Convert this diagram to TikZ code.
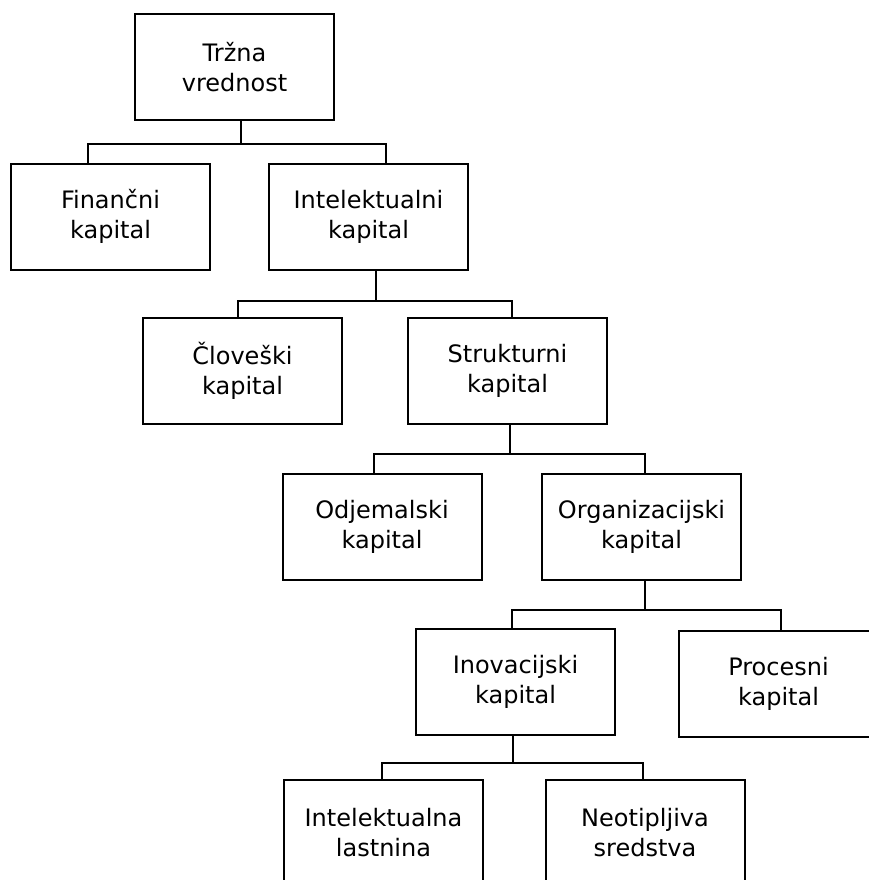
\documentclass[tikz,border=0pt]{standalone}
\usepackage{fontspec}
\setmainfont{DejaVu Sans}
\usetikzlibrary{shapes}
\tikzstyle{block} = [rectangle, draw, line width=2pt, fill=white,
    minimum width=199pt, minimum height=106pt, align=center,
    font=\fontsize{24pt}{30pt}\selectfont]
\tikzstyle{line} = [draw, line width=2pt]

\begin{document}
\begin{tikzpicture}[x=1pt, y=1pt]
        \useasboundingbox (0,0) rectangle (869,-880);
        \clip (0,0) rectangle (869,-880);

        % Place nodes
        \node [block] (trzna) at (234.5,-67) {Tržna\\vrednost};
        \node [block] (financni) at (110.5,-216.5) {Finančni\\kapital};
        \node [block] (intelekt) at (368.5,-216.5) {Intelektualni\\kapital};
        \node [block] (cloveski) at (242.5,-371) {Človeški\\kapital};
        \node [block] (strukt) at (507.5,-371) {Strukturni\\kapital};
        \node [block] (odjem) at (382,-527) {Odjemalski\\kapital};
        \node [block] (organiz) at (641.5,-527) {Organizacijski\\kapital};
        \node [block] (inovac) at (515.5,-681.5) {Inovacijski\\kapital};
        \node [block] (proces) at (778.5,-683.5) {Procesni\\kapital};
        \node [block] (lastnina) at (383.5,-833) {Intelektualna\\lastnina};
        \node [block] (sredstva) at (645,-833) {Neotipljiva\\sredstva};

        % Draw edges
        \path [line] ([xshift=6.5pt]trzna.south) -- ++(0,-23) coordinate (bus1);
        \path [line] ([xshift=-22.5pt]financni.north) |- (bus1) -| ([xshift=17.5pt]intelekt.north);

        \path [line] ([xshift=7.5pt]intelekt.south) -- ++(0,-30) coordinate (bus2);
        \path [line] ([xshift=-4.5pt]cloveski.north) |- (bus2) -| ([xshift=4.5pt]strukt.north);

        \path [line] ([xshift=2.5pt]strukt.south) -- ++(0,-29) coordinate (bus3);
        \path [line] ([xshift=-8pt]odjem.north) |- (bus3) -| ([xshift=3.5pt]organiz.north);

        \path [line] ([xshift=3.5pt]organiz.south) -- ++(0,-29) coordinate (bus4);
        \path [line] ([xshift=-3.5pt]inovac.north) |- (bus4) -| ([xshift=2.5pt]proces.north);

        \path [line] ([xshift=-2.5pt]inovac.south) -- ++(0,-27) coordinate (bus5);
        \path [line] ([xshift=-1.5pt]lastnina.north) |- (bus5) -| ([xshift=-2pt]sredstva.north);
    \end{tikzpicture}
\end{document}
